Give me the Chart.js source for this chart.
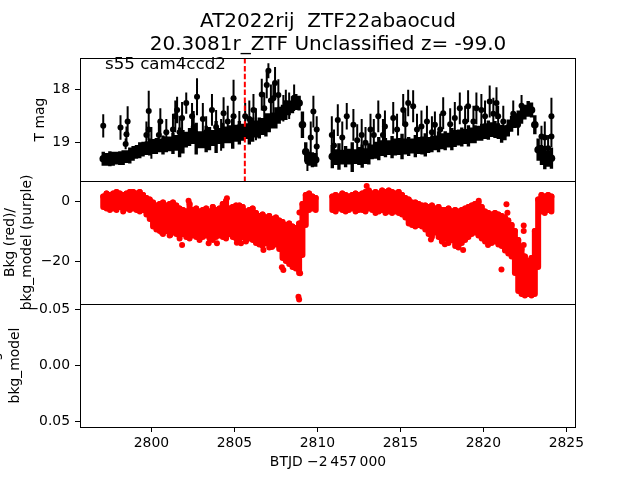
<!DOCTYPE html>
<html>
<head>
<meta charset="utf-8">
<script src="https://cdn.jsdelivr.net/npm/chart.js@4.4.0/dist/chart.umd.min.js"></script>
<style>
html, body { margin: 0; padding: 0; background: #fff; overflow: hidden; }
#fig { position: relative; width: 640px; height: 480px; overflow: hidden; }
#fig canvas { position: absolute; left: 0; top: 0; }
</style>
</head>
<body>
<div id="fig">
  <canvas id="panelMag" width="640" height="480"></canvas>
  <canvas id="panelBkg" width="640" height="480"></canvas>
  <canvas id="panelModelo" width="640" height="480"></canvas>
</div>
<script>
// --- DATOS ---
const tiempos = [
  2797.1,2797.3,2797.5,2797.7,2797.9,2798.1,2798.3,2798.5,2798.7,2798.9,
  2799.1,2799.3,2799.5,2799.7,2799.9,2800.1,2800.3,2800.5,2800.7,2800.9,
  2801.1,2801.3,2801.5,2801.7,2801.9,2802.1,2802.3,2802.5,2802.7,2802.9,
  2803.1,2803.3,2803.5,2803.7,2803.9,2804.1,2804.3,2804.5,2804.7,2804.9,
  2805.1,2805.3,2805.5,2805.7,2805.9,2806.1,2806.3,2806.5,2806.7,2806.9,
  2807.1,2807.3,2807.5,2807.7,2807.9,2808.1,2808.3,2808.5,2808.7,2808.9,
  2809.1,2809.3,2809.5,2809.7,2809.9,
  2810.9,2811.1,2811.3,2811.5,2811.7,2811.9,2812.1,2812.3,2812.5,2812.7,
  2812.9,2813.1,2813.3,2813.5,2813.7,2813.9,2814.1,2814.3,2814.5,2814.7,
  2814.9,2815.1,2815.3,2815.5,2815.7,2815.9,2816.1,2816.3,2816.5,2816.7,
  2816.9,2817.1,2817.3,2817.5,2817.7,2817.9,2818.1,2818.3,2818.5,2818.7,
  2818.9,2819.1,2819.3,2819.5,2819.7,2819.9,2820.1,2820.3,2820.5,2820.7,
  2820.9,2821.1,2821.3,2821.5,2821.7,2821.9,2822.1,2822.3,2822.5,2822.7,
  2822.9,2823.1,2823.3,2823.5,2823.7,2823.9,2824.1
];
const magBanda = [
  19.30,19.31,19.30,19.30,19.29,19.29,19.28,19.26,19.24,19.20,
  19.17,19.14,19.12,19.10,19.08,19.07,19.06,19.05,19.04,19.03,
  19.02,19.01,19.00,18.99,18.98,18.94,18.89,18.88,18.92,18.94,
  18.94,18.93,18.92,18.91,18.89,18.87,18.86,18.85,18.84,18.83,
  18.82,18.81,18.80,18.78,18.77,18.75,18.74,18.72,18.69,18.66,
  18.62,18.58,18.53,18.48,18.43,18.39,18.34,18.28,18.23,18.25,
  18.66,19.17,19.30,19.32,19.32,
  19.26,19.27,19.26,19.27,19.26,19.26,19.27,19.26,19.25,19.25,
  19.25,19.21,19.17,19.14,19.11,19.10,19.09,19.09,19.08,19.08,
  19.07,19.07,19.07,19.07,19.06,19.06,19.05,19.05,19.04,19.04,
  19.02,19.00,18.98,18.97,18.96,18.95,18.93,18.92,18.90,18.89,
  18.88,18.87,18.86,18.84,18.82,18.80,18.78,18.76,18.75,18.75,
  18.78,18.83,18.81,18.72,18.64,18.58,18.55,18.49,18.42,18.36,
  18.38,18.66,19.13,19.23,19.28,19.30,19.29
];
const errBanda = [
  0.13,0.12,0.14,0.13,0.12,0.13,0.14,0.12,0.15,0.14,
  0.13,0.15,0.14,0.13,0.16,0.14,0.15,0.13,0.18,0.15,
  0.14,0.20,0.15,0.28,0.22,0.15,0.17,0.14,0.30,0.16,
  0.16,0.25,0.22,0.15,0.30,0.15,0.24,0.16,0.17,0.28,
  0.16,0.22,0.16,0.15,0.26,0.23,0.16,0.20,0.16,0.22,
  0.18,0.15,0.20,0.16,0.15,0.18,0.14,0.16,0.15,0.14,
  0.25,0.18,0.13,0.14,0.13,
  0.22,0.15,0.25,0.14,0.20,0.15,0.28,0.14,0.17,0.22,
  0.15,0.20,0.14,0.16,0.22,0.15,0.18,0.14,0.21,0.16,
  0.16,0.24,0.15,0.18,0.14,0.21,0.16,0.17,0.22,0.15,
  0.16,0.14,0.20,0.15,0.18,0.14,0.21,0.16,0.15,0.18,
  0.14,0.20,0.15,0.17,0.14,0.16,0.15,0.18,0.14,0.16,
  0.15,0.17,0.14,0.16,0.15,0.14,0.16,0.15,0.14,0.15,
  0.14,0.18,0.21,0.19,0.22,0.15,0.20
];
// puntos sueltos con barras largas
const tAtipicos = [
  2797.10,2798.14,2798.57,2798.50,2798.45,2799.84,2799.84,2800.54,2800.90,2801.44,
  2801.55,2801.85,2802.10,2802.45,2802.75,2803.10,2803.65,2804.35,2804.60,2804.95,
  2804.95,2805.65,2806.15,2806.65,2807.05,2806.95,2807.45,2807.35,2807.95,2808.30,
  2809.40,2809.76,2809.96,2809.96,
  2799.70,2800.00,2800.45,2801.30,2801.70,2802.55,2803.30,2803.90,2804.20,2805.30,
  2805.90,2806.30,2806.80,2807.20,2807.65,2808.10,2808.60,2809.60,
  2810.87,2811.23,2811.77,2812.17,2812.67,2813.20,2813.67,2814.07,2814.57,2815.17,
  2815.47,2815.77,2816.27,2816.60,2817.08,2817.58,2818.28,2818.58,2819.08,2819.58,
  2819.88,2820.38,2820.79,2820.89,2822.09,2823.50,2824.10,2824.10,
  2811.00,2811.50,2812.40,2812.90,2813.40,2813.95,2814.80,2815.30,2816.00,2816.90,
  2817.40,2818.00,2818.90,2819.40,2820.10,2820.60,2821.20,2821.80,2822.30,2823.70,
  2823.90
];
const magAtipicos = [
  18.68,18.71,18.60,18.84,19.02,18.40,18.75,18.60,18.80,18.50,
  18.38,18.53,18.25,18.50,18.13,18.55,18.38,18.44,18.60,18.16,
  18.50,18.50,18.38,18.09,17.64,17.91,17.87,18.16,18.35,18.30,
  19.35,18.41,18.75,19.07,
  18.85,19.00,18.85,18.75,18.80,18.70,18.80,18.70,18.85,18.70,
  18.55,18.65,18.35,18.20,18.10,18.25,18.15,18.90,
  18.85,18.57,18.50,18.66,18.85,18.75,18.50,18.69,18.53,18.38,
  18.25,18.31,18.69,18.60,18.66,18.44,18.53,18.35,18.31,18.35,
  18.38,18.22,18.25,18.50,18.66,18.88,18.50,18.88,
  19.05,18.90,18.95,19.00,18.85,18.85,18.75,18.65,18.75,18.80,
  18.75,18.65,18.60,18.60,18.50,18.45,18.60,18.45,18.30,18.90,
  19.10
];
const errAtipicos = [
  0.22,0.23,0.29,0.15,0.10,0.38,0.20,0.25,0.25,0.30,
  0.25,0.30,0.20,0.25,0.35,0.30,0.30,0.30,0.30,0.35,
  0.25,0.25,0.30,0.30,0.14,0.25,0.30,0.30,0.25,0.25,
  0.18,0.30,0.25,0.20,
  0.25,0.30,0.25,0.30,0.30,0.30,0.30,0.32,0.30,0.30,
  0.35,0.30,0.30,0.30,0.30,0.25,0.25,0.30,
  0.35,0.30,0.25,0.30,0.30,0.30,0.30,0.30,0.30,0.30,
  0.25,0.30,0.30,0.30,0.25,0.30,0.30,0.30,0.30,0.30,
  0.30,0.30,0.30,0.20,0.20,0.20,0.35,0.20,
  0.30,0.30,0.30,0.30,0.30,0.30,0.30,0.30,0.30,0.30,
  0.30,0.30,0.30,0.30,0.30,0.30,0.30,0.25,0.20,0.30,
  0.25
];
// fondo: borde alto y bajo de la nube roja en cada tiempo
const bkgAlto = [
  1.5,2.5,2.0,2.5,3.0,2.5,2.0,2.5,3.0,3.0,
  2.5,3.0,2.0,1.0,0.5,-0.5,-1.5,-1.0,-0.5,-1.5,
  -1.0,-0.5,-1.5,-2.5,-3.0,-3.5,-1.0,-3.0,-2.5,-3.5,
  -3.0,-2.5,-3.5,-2.0,-3.0,-2.5,-1.0,0.0,-2.5,-2.0,
  -1.5,-1.5,-2.0,-3.5,-3.0,-2.5,-4.0,-5.0,-4.5,-5.5,
  -5.0,-6.0,-5.5,-6.5,-7.0,-8.0,-7.5,-8.5,-9.0,-7.5,
  -1.0,2.0,2.5,1.5,1.0,
  1.5,2.0,1.5,2.5,2.0,1.5,2.0,2.5,2.0,2.5,
  3.0,3.5,2.5,3.0,2.5,3.5,3.0,3.5,3.0,2.5,
  3.0,2.0,1.0,0.5,-0.5,-0.5,-1.0,-1.5,-1.5,-2.0,
  -1.5,-2.5,-2.0,-3.0,-3.0,-2.5,-3.5,-3.0,-3.5,-3.0,
  -2.5,-2.0,-1.5,-1.0,-0.5,-2.0,-3.5,-4.0,-4.5,-4.0,
  -4.5,-5.0,-5.5,-6.5,-8.0,-10.0,-13.0,-16.0,-18.5,-20.0,
  -19.0,-10.0,0.5,2.0,1.5,2.0,1.5
];
const bkgBajo = [
  -2.0,-2.5,-3.0,-2.5,-3.0,-2.0,-3.5,-2.5,-3.0,-2.5,
  -3.0,-3.5,-3.0,-4.5,-6.0,-8.5,-9.5,-10.0,-11.0,-10.0,
  -11.5,-10.5,-11.0,-12.5,-11.0,-12.0,-12.5,-11.5,-12.0,-13.0,
  -12.0,-11.5,-12.5,-13.0,-12.0,-11.5,-12.0,-12.5,-11.0,-12.0,
  -12.5,-13.0,-12.0,-13.5,-12.5,-13.0,-14.0,-14.5,-15.0,-14.0,
  -15.5,-15.0,-14.5,-16.0,-19.0,-20.0,-21.0,-22.0,-22.5,-24.0,
  -18.0,-8.0,-3.0,-2.5,-3.0,
  -3.0,-3.5,-2.5,-3.0,-3.5,-3.0,-2.5,-3.5,-3.0,-3.0,
  -3.5,-2.5,-3.0,-4.0,-3.5,-3.0,-4.0,-3.5,-4.0,-3.5,
  -4.0,-4.5,-5.5,-7.5,-8.0,-8.5,-8.0,-8.5,-9.5,-11.0,
  -12.0,-10.5,-12.0,-13.5,-12.5,-14.0,-13.0,-15.0,-15.5,-14.0,
  -13.0,-12.0,-11.0,-10.5,-11.5,-12.5,-13.5,-13.0,-14.0,-13.5,
  -14.5,-15.0,-16.5,-17.5,-18.5,-24.0,-30.0,-31.0,-31.5,-31.0,
  -31.5,-31.0,-22.0,-3.5,-4.0,-3.0,-3.5
];
const tBkgAtipicos = [
  2801.85,2808.86,2808.90,2808.96,2807.86,2807.95,2803.45,2803.95,2805.15,2805.40,
  2806.75,2807.26,2802.24,2804.55,2808.92,2800.64,2801.14,
  2812.97,2816.84,2817.68,2818.78,2819.72,2821.39,2821.45,2821.09,2822.43,
  2822.43,2822.43,2820.28
];
const bkgAtipicos = [
  -14.7,-31.9,-32.8,-24.1,-22.1,-23.0,-14.1,-14.1,-13.9,-14.1,
  -16.3,-15.3,0.1,0.9,-3.8,-10.6,-11.3,
  5.0,-12.8,-14.4,-16.3,0.1,-1.1,-3.9,-22.8,-8.2,
  -10.0,-14.7,-14.7
];
const tMarca = 2805.63;

const ticksX = [2800, 2805, 2810, 2815, 2820, 2825];
const ticksMag = [18, 19];
const ticksBkg = [0, -20];
const ticksModelo = [-0.05, 0, 0.05];
const limX = [2795.70, 2825.58];
const limMag = [17.40, 19.72];
const limBkg = [-34.33, 6.67];
const limModelo = [-0.055, 0.055];

const titulo = ['AT2022rij  ZTF22abaocud', '20.3081r_ZTF Unclassified z= -99.0'];
const etiquetaCampo = 's55 cam4ccd2';
const etiquetaX = 'BTJD \u22122\u2009457\u2009000';

// --- ESTILO GENERAL ---
const FAMILIA = "'DejaVu Sans', sans-serif";
Chart.defaults.font.family = FAMILIA;
Chart.defaults.font.size = 13.9;
Chart.defaults.color = '#000';

const menos = v => (v < 0 ? '\u2212' : '') + Math.abs(v);

// --- PLUGINS ---
// barras verticales (errores / rango del fondo) dibujadas con las escalas del grafico
const barras = {
  id: 'barras',
  beforeDatasetsDraw(chart) {
    const { ctx, chartArea: a, scales: { x, y } } = chart;
    ctx.save();
    ctx.beginPath();
    ctx.rect(a.left, a.top, a.width, a.height);
    ctx.clip();
    chart.data.datasets.forEach(ds => {
      if (!ds.barras) return;
      ctx.strokeStyle = ds.barras.color;
      ctx.lineWidth = ds.barras.ancho;
      ctx.lineCap = ds.barras.cap || 'butt';
      ctx.beginPath();
      ds.data.forEach(p => {
        const px = x.getPixelForValue(p.x);
        ctx.moveTo(px, y.getPixelForValue(p.lo));
        ctx.lineTo(px, y.getPixelForValue(p.hi));
      });
      ctx.stroke();
    });
    ctx.restore();
  }
};

// marco completo de cada panel
const marco = {
  id: 'marco',
  afterDatasetsDraw(chart) {
    const { ctx, chartArea: a } = chart;
    ctx.save();
    ctx.strokeStyle = '#000';
    ctx.lineWidth = 1;
    ctx.strokeRect(Math.round(a.left) + 0.5, Math.round(a.top) + 0.5,
      Math.round(a.width) - 1, Math.round(a.height));
    ctx.restore();
  }
};

// textos libres (titulo, etiquetas de eje y anotacion)
function textos(id, items) {
  return {
    id: id,
    afterDraw(chart) {
      const ctx = chart.ctx, a = chart.chartArea;
      items.forEach(it => {
        const p = it.pos(a);
        ctx.save();
        ctx.font = it.font || ('13.9px ' + FAMILIA);
        ctx.fillStyle = '#000';
        ctx.textAlign = it.align || 'center';
        ctx.textBaseline = it.base || 'middle';
        ctx.translate(p[0], p[1]);
        if (it.vertical) ctx.rotate(-Math.PI / 2);
        ctx.fillText(it.text, 0, 0);
        ctx.restore();
      });
    }
  };
}

// --- CONFIGURACION COMUN ---
function ejeY(lim, ticks, fmt, invertido) {
  return {
    type: 'linear',
    min: lim[0], max: lim[1],
    reverse: invertido,
    afterFit: s => { s.width = 80; },
    afterBuildTicks: s => { s.ticks = ticks.map(v => ({ value: v })); },
    grid: { drawOnChartArea: false, drawTicks: true, tickLength: 5, color: '#000', lineWidth: 1 },
    border: { display: false },
    ticks: { padding: 5, callback: fmt }
  };
}

function ejeXOculto() {
  return { type: 'linear', min: limX[0], max: limX[1], display: false };
}

function opciones(padding, escalas) {
  return {
    responsive: false,
    animation: false,
    devicePixelRatio: 1,
    events: [],
    layout: { padding: padding },
    plugins: { legend: { display: false }, tooltip: { enabled: false }, title: { display: false } },
    scales: escalas
  };
}

// --- PANEL 1: MAGNITUD ---
const ptsBanda = tiempos.map((t, i) => ({ x: t, y: magBanda[i], lo: magBanda[i] - errBanda[i], hi: magBanda[i] + errBanda[i] }));
const ptsAtipicos = tAtipicos.map((t, i) => ({ x: t, y: magAtipicos[i], lo: magAtipicos[i] - errAtipicos[i], hi: magAtipicos[i] + errAtipicos[i] }));

new Chart(document.getElementById('panelMag'), {
  type: 'scatter',
  data: {
    datasets: [
      { data: ptsBanda, pointRadius: 3.8, pointBackgroundColor: '#000', pointBorderWidth: 0,
        barras: { color: '#000', ancho: 3.4 } },
      { data: ptsAtipicos, pointRadius: 3, pointBackgroundColor: '#000', pointBorderWidth: 0,
        barras: { color: '#000', ancho: 2 } },
      { data: [{ x: tMarca, y: limMag[0] }, { x: tMarca, y: limMag[1] }], showLine: true,
        borderColor: '#ff0000', borderWidth: 2, borderDash: [5.5, 2.4], pointRadius: 0 }
    ]
  },
  options: opciones({ top: 58, bottom: 299, left: 0, right: 64 }, {
    x: ejeXOculto(),
    y: ejeY(limMag, ticksMag, v => String(v), true)
  }),
  plugins: [barras, marco, textos('textosMag', [
    { text: titulo[0], font: '20px ' + FAMILIA, base: 'alphabetic', pos: a => [(a.left + a.right) / 2, 27] },
    { text: titulo[1], font: '20px ' + FAMILIA, base: 'alphabetic', pos: a => [(a.left + a.right) / 2, 50] },
    { text: etiquetaCampo, font: '16.67px ' + FAMILIA, align: 'left', base: 'alphabetic', pos: a => [a.left + 25, a.top + 11] },
    { text: 'T mag', vertical: true, pos: a => [40, (a.top + a.bottom) / 2] }
  ])]
});

// --- PANEL 2: FONDO ---
const ptsBkg = tiempos.map((t, i) => ({ x: t, y: bkgAlto[i], lo: bkgBajo[i], hi: bkgAlto[i] }));
const ptsBkgAtipicos = tBkgAtipicos.map((t, i) => ({ x: t, y: bkgAtipicos[i] }));

new Chart(document.getElementById('panelBkg'), {
  type: 'scatter',
  data: {
    datasets: [
      { data: ptsBkg, pointRadius: 3, pointBackgroundColor: '#ff0000', pointBorderWidth: 0,
        barras: { color: '#ff0000', ancho: 6, cap: 'round' } },
      { data: ptsBkgAtipicos, pointRadius: 3, pointBackgroundColor: '#ff0000', pointBorderWidth: 0 }
    ]
  },
  options: opciones({ top: 181, bottom: 176, left: 0, right: 64 }, {
    x: ejeXOculto(),
    y: ejeY(limBkg, ticksBkg, menos, false)
  }),
  plugins: [barras, marco, textos('textosBkg', [
    { text: 'Bkg (red)/', vertical: true, pos: a => [10, (a.top + a.bottom) / 2] },
    { text: 'bkg_model (purple)', vertical: true, pos: a => [27.5, (a.top + a.bottom) / 2] }
  ])]
});

// --- PANEL 3: MODELO (vacio) ---
new Chart(document.getElementById('panelModelo'), {
  type: 'scatter',
  data: { datasets: [] },
  options: opciones({ top: 304, bottom: 0, left: 0, right: 64 }, {
    x: {
      type: 'linear', min: limX[0], max: limX[1],
      afterFit: s => { s.height = 53; },
      afterBuildTicks: s => { s.ticks = ticksX.map(v => ({ value: v })); },
      grid: { drawOnChartArea: false, drawTicks: true, tickLength: 5, color: '#000', lineWidth: 1 },
      border: { display: false },
      ticks: { padding: 3, maxRotation: 0, callback: v => String(v) },
      title: { display: true, text: etiquetaX, font: { size: 13.9 }, padding: { top: 0, bottom: 9.7 } }
    },
    y: ejeY(limModelo, ticksModelo, v => (v < 0 ? '\u2212' : '') + Math.abs(v).toFixed(2), true)
  }),
  plugins: [marco, textos('textosModelo', [
    { text: 'Bkg', vertical: true, pos: a => [-4.5, (a.top + a.bottom) / 2] },
    { text: 'bkg_model', vertical: true, pos: a => [15.5, (a.top + a.bottom) / 2] }
  ])]
});
</script>
</body>
</html>
